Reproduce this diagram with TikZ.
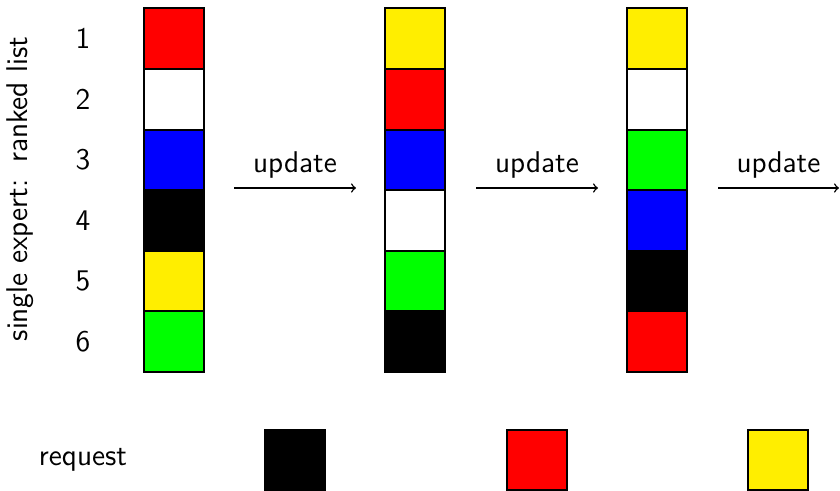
\documentclass[tikz,border=0pt]{standalone}
\usetikzlibrary{positioning}
\definecolor{cred}{RGB}{255,0,0}
\definecolor{cblue}{RGB}{0,0,255}
\definecolor{cgreen}{RGB}{0,255,0}
\definecolor{cyellow}{RGB}{255,238,0}
\begin{document}
\begin{tikzpicture}[x=0.5pt,y=-0.5pt,
  every node/.style={font=\sffamily\fontsize{15}{18}\selectfont},
  cell/.style={draw=black,line width=1pt,minimum width=30pt,minimum height=30.3pt,inner sep=0pt,outer sep=0pt},
  lbl/.style={inner sep=0pt},
  upd/.style={->,line width=0.75pt}]
\useasboundingbox (0,0) rectangle (840,491);
\foreach \c [count=\i] in {cred,white,cblue,black,cyellow,cgreen}
  \node[cell,fill=\c] (a\i) at (174,{8.5+30.3+60.6*(\i-1)}) {};
\foreach \c [count=\i] in {cyellow,cred,cblue,white,cgreen,black}
  \node[cell,fill=\c] (b\i) at (415,{8.5+30.3+60.6*(\i-1)}) {};
\foreach \c [count=\i] in {cyellow,white,cgreen,cblue,black,cred}
  \node[cell,fill=\c] (c\i) at (657,{8.5+30.3+60.6*(\i-1)}) {};
\foreach \i in {1,...,6}
  \node[lbl] (n\i) at (83,{38.5+60.6*(\i-1)}) {\i};
\node[lbl,rotate=90] (ylab) at (20,189) {single expert:\hspace{0.55em}ranked list};
\coordinate (s1) at (234,188); \coordinate (e1) at (356,188);
\coordinate (s2) at (476,188); \coordinate (e2) at (598,188);
\coordinate (s3) at (718,188); \coordinate (e3) at (839,188);
\foreach \k in {1,2,3}
  \draw[upd] (s\k) -- node[above=4.5pt,lbl] (u\k) {update} (e\k);
\node[lbl] (req) at (83,460) {request};
\node[cell,fill=black] (r1) at (294.5,460) {};
\node[cell,fill=cred] (r2) at (536.5,460) {};
\node[cell,fill=cyellow] (r3) at (778,460) {};
\end{tikzpicture}
\end{document}
